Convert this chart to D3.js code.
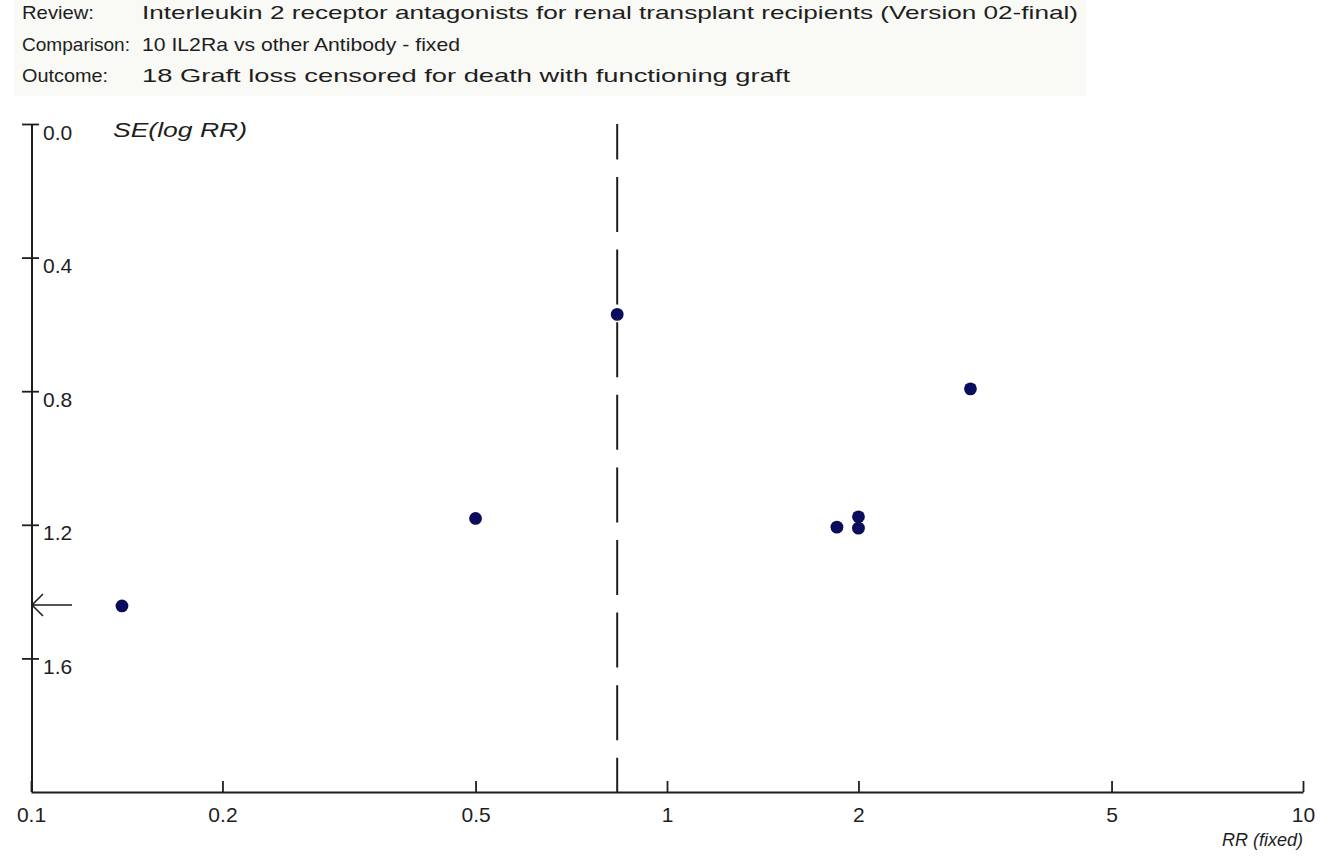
<!DOCTYPE html>
<html><head><meta charset="utf-8">
<script src="https://cdn.jsdelivr.net/npm/d3@7"></script>
<style>
body{margin:0;background:#fff;}
svg{display:block;}
text{font-family:"Liberation Sans",Arial,sans-serif;fill:#1e1e1e;}
</style>
</head><body>
<svg id="chart" width="1334" height="860"></svg>
<script>
// ---- data ----
const headerLabels = ["Review:", "Comparison:", "Outcome:"];
const headerValues = [
  "Interleukin 2 receptor antagonists for renal transplant recipients (Version 02-final)",
  "10 IL2Ra vs other Antibody - fixed",
  "18 Graft loss censored for death with functioning graft"
];
const studyRR = [0.835, 3.0, 0.5, 1.85, 2.0, 2.0, 0.139];
const studySE = [0.570, 0.793, 1.181, 1.207, 1.176, 1.210, 1.443];
const pooledRR = 0.835;
const offscaleSE = [1.443];
const xTicks = [0.1, 0.2, 0.5, 1, 2, 5, 10];
const xTickLabels = ["0.1", "0.2", "0.5", "1", "2", "5", "10"];
const yTicks = [0, 0.4, 0.8, 1.2, 1.6];
const yTickLabels = ["0.0", "0.4", "0.8", "1.2", "1.6"];
const xTitle = "RR (fixed)";
const yTitle = "SE(log RR)";

// ---- layout ----
const svg = d3.select("#chart");
const ink = "#1e1e1e";
const x = d3.scaleLog().domain([0.1, 10]).range([31, 1303]);
const y = d3.scaleLinear().domain([0, 2]).range([124, 792]);

// header
svg.append("rect").attr("x", 14).attr("y", 0).attr("width", 1072).attr("height", 96).attr("fill", "#f9f9f6");
const labelW = [72, 108, 86];
const valueW = [936, 318, 648];
const headBase = [18.5, 50.5, 82];
headerLabels.forEach((t, i) => {
  svg.append("text").attr("x", 22).attr("y", headBase[i]).attr("font-size", 19)
    .attr("textLength", labelW[i]).attr("lengthAdjust", "spacingAndGlyphs").text(t);
  svg.append("text").attr("x", 142).attr("y", headBase[i]).attr("font-size", 19)
    .attr("textLength", valueW[i]).attr("lengthAdjust", "spacingAndGlyphs").text(headerValues[i]);
});

// y axis
const yAxis = svg.append("g").attr("transform", "translate(32,0)")
  .call(d3.axisRight(y).tickValues(yTicks).tickSizeInner(7).tickSizeOuter(0)
    .tickFormat((d, i) => yTickLabels[i]));
yAxis.select(".domain").remove();
yAxis.selectAll(".tick line").attr("x1", -10).attr("x2", 7).attr("stroke", ink).attr("stroke-width", 1.8);
yAxis.selectAll(".tick text").attr("x", 11).attr("y", 15).attr("dy", null)
  .attr("font-size", 21).attr("fill", ink).style("font-family", '"Liberation Sans",Arial,sans-serif');
svg.append("line").attr("x1", 32).attr("x2", 32).attr("y1", y(0)).attr("y2", y(2))
  .attr("stroke", ink).attr("stroke-width", 2);

// x axis
const xAxis = svg.append("g").attr("transform", `translate(0,${y(2)})`)
  .call(d3.axisBottom(x).tickValues(xTicks).tickSizeInner(-11).tickSizeOuter(0)
    .tickFormat((d, i) => xTickLabels[i]));
xAxis.select(".domain").attr("stroke", ink).attr("stroke-width", 2);
xAxis.selectAll(".tick line").attr("stroke", ink).attr("stroke-width", 1.8);
xAxis.selectAll(".tick text").attr("y", 30).attr("dy", null)
  .attr("font-size", 21).attr("fill", ink).style("font-family", '"Liberation Sans",Arial,sans-serif');

// titles
svg.append("text").attr("x", 113).attr("y", 137).attr("font-size", 20).attr("font-style", "italic")
  .attr("textLength", 134).attr("lengthAdjust", "spacingAndGlyphs").text(yTitle);
svg.append("text").attr("x", 1303).attr("y", 846).attr("font-size", 18).attr("font-style", "italic")
  .attr("text-anchor", "end").text(xTitle);

// pooled estimate dashed line
svg.append("line").attr("x1", x(pooledRR)).attr("x2", x(pooledRR))
  .attr("y1", y(0)).attr("y2", y(2))
  .attr("stroke", ink).attr("stroke-width", 2)
  .attr("stroke-dasharray", "55 17.6").attr("stroke-dashoffset", 19.6);

// off-scale arrow
offscaleSE.forEach(se => {
  const yy = y(se) - 1, x0 = x(0.1) + 1;
  svg.append("path")
    .attr("d", `M${x0},${yy}H${x0 + 40}M${x0 + 11},${yy - 11}L${x0},${yy}L${x0 + 11},${yy + 11}`)
    .attr("fill", "none").attr("stroke", ink).attr("stroke-width", 1.5);
});

// studies
svg.append("g").selectAll("circle").data(studyRR).join("circle")
  .attr("cx", d => x(d)).attr("cy", (d, i) => y(studySE[i])).attr("r", 6.4)
  .attr("fill", "#0c0c5c");
</script>
</body></html>
